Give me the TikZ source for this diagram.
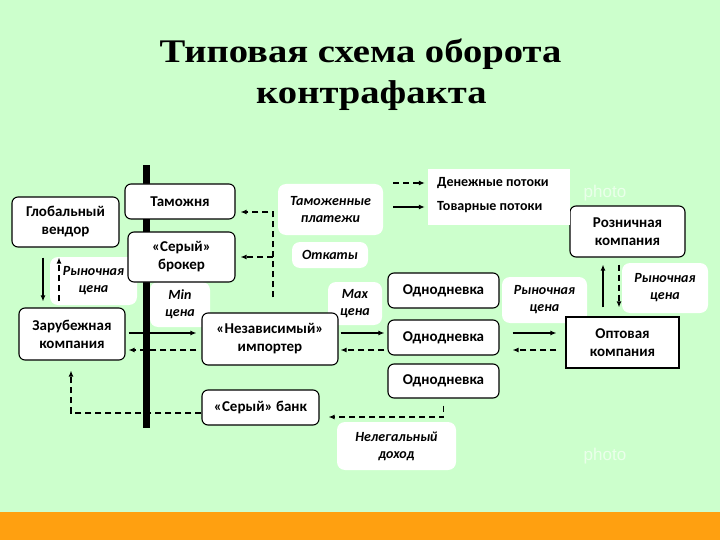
\documentclass[tikz,border=0pt]{standalone}
\usepackage{fontspec}
\setmainfont{Carlito}
\newfontfamily\titlefont[FakeStretch=1.17]{Liberation Serif}
\newfontfamily\wmfont{Liberation Sans}
\usetikzlibrary{arrows.meta,calc}
\definecolor{bg}{RGB}{204,255,204}
\definecolor{orangebar}{RGB}{255,160,16}
\begin{document}
\begin{tikzpicture}[x=1pt,y=-1pt,
  box/.style={draw=black,line width=1.1pt,fill=white,rounded corners=6pt,align=center,
    font=\fontsize{15}{18}\selectfont\bfseries,inner sep=0pt},
  sqbox/.style={box,rounded corners=0pt},
  lab/.style={fill=white,rounded corners=8pt,align=center,
    font=\fontsize{14}{17}\selectfont\bfseries\itshape,inner sep=0pt},
  sol/.style={line width=1.3pt,-{Latex[length=6pt,width=5pt]}},
  dsh/.style={sol,dash pattern=on 6pt off 4pt},
  wm/.style={font=\wmfont\fontsize{17}{20}\selectfont,text=white,text opacity=0.6},
  ttl/.style={font=\titlefont\fontsize{33}{40}\selectfont\bfseries},
  legtext/.style={anchor=west,font=\fontsize{14}{17}\selectfont\bfseries,inner sep=0pt}
]
\useasboundingbox (0,0) rectangle (720,540);
\fill[bg] (0,0) rectangle (720,540);
\fill[orangebar] (0,512) rectangle (720,540);

% title
\node[ttl,anchor=base] (t1) at (360.5,63) {Типовая схема оборота};
\node[ttl,anchor=base] (t2) at (371.5,104) {контрафакта};

% watermark
\node[wm] (w1) at (605,193) {photo};
\node[wm] (w2) at (605,456) {photo};

% border bar
\fill[black] (143,165) rectangle (150,428);

% label boxes
\node[lab,minimum width=87pt,minimum height=48pt] (lrm) at (93.5,281) {Рыночная\\цена};
\node[lab,minimum width=60pt,minimum height=45pt] (minc) at (180,304.5) {Min\\цена};
\node[lab,minimum width=105pt,minimum height=51pt] (tp) at (330.5,209.5) {Таможенные\\платежи};
\node[lab,minimum width=76pt,minimum height=26pt] (otk) at (330,255) {Откаты};
\node[lab,minimum width=54pt,minimum height=43pt] (maxc) at (355,303.5) {Max\\цена};
\node[lab,minimum width=85pt,minimum height=46pt] (lrc) at (544.5,300) {Рыночная\\цена};
\node[lab,minimum width=86pt,minimum height=50pt] (lrr) at (665,288) {Рыночная\\цена};
\node[lab,minimum width=119pt,minimum height=48pt] (neleg) at (396.5,446) {Нелегальный\\доход};

% main boxes
\node[box,minimum width=107pt,minimum height=50pt] (glob) at (65.5,222) {Глобальный\\вендор};
\node[box,minimum width=110pt,minimum height=35pt] (tam) at (180,201.5) {Таможня};
\node[box,minimum width=107pt,minimum height=50pt] (brok) at (181.5,257) {«Серый»\\брокер};
\node[box,minimum width=106pt,minimum height=52pt] (zar) at (72,334) {Зарубежная\\компания};
\node[box,minimum width=136pt,minimum height=52pt] (imp) at (270,339) {«Независимый»\\импортер};
\node[box,minimum width=117pt,minimum height=35pt] (bank) at (260.5,407.5) {«Серый» банк};
\node[box,minimum width=111pt,minimum height=35pt] (od1) at (443.5,290.5) {Однодневка};
\node[box,minimum width=111pt,minimum height=35pt] (od2) at (443.5,337.5) {Однодневка};
\node[box,minimum width=111pt,minimum height=34pt] (od3) at (443.5,381) {Однодневка};
\node[box,minimum width=115pt,minimum height=51pt] (rozn) at (627.5,231.5) {Розничная\\компания};
\node[sqbox,minimum width=113pt,minimum height=51pt] (opt) at (622.5,342.5) {Оптовая\\компания};

% legend
\node[fill=white,minimum width=142pt,minimum height=56pt,inner sep=0pt] (legend) at (499,197) {};
\node[legtext] (leg1) at (437,183) {Денежные потоки};
\node[legtext] (leg2) at (437,207) {Товарные потоки};
\coordinate (l1s) at (393,183);
\coordinate (l2s) at (393,207);
\draw[dsh,shorten >=3pt] (l1s) -- (legend.west |- l1s);
\draw[sol,shorten >=3pt] (l2s) -- (legend.west |- l2s);

% helper coordinates
\coordinate (xa) at (43,0);
\coordinate (xd) at (59,0);
\coordinate (ya) at (0,333);
\coordinate (yd) at (0,350);
\coordinate (xr) at (603,0);
\coordinate (xq) at (619,0);
\coordinate (xv) at (273,0);
\coordinate (yt) at (0,212);
\coordinate (yb) at (0,413);
\coordinate (xb) at (71,0);
\coordinate (yc) at (0,417);

% vendor <-> foreign company
\draw[sol,shorten <=10pt,shorten >=6pt] (glob.south -| xa) -- (zar.north -| xa);
\draw[dsh,shorten <=6pt,shorten >=10pt] (zar.north -| xd) -- (glob.south -| xd);

% foreign company <-> importer
\draw[sol,shorten <=3pt,shorten >=5pt] (zar.east |- ya) -- (imp.west |- ya);
\draw[dsh,shorten <=5pt,shorten >=3pt] (imp.west |- yd) -- (zar.east |- yd);

% importer <-> one-day firms
\draw[sol,shorten <=2pt,shorten >=3pt] (imp.east |- ya) -- (od2.west |- ya);
\draw[dsh,shorten <=3pt,shorten >=2pt] (od2.west |- yd) -- (imp.east |- yd);

% one-day firms <-> wholesale
\draw[sol,shorten <=13pt,shorten >=9pt] (od2.east |- ya) -- (opt.west |- ya);
\draw[dsh,shorten <=9pt,shorten >=13pt] (opt.west |- yd) -- (od2.east |- yd);

% wholesale <-> retail
\draw[sol,shorten <=9pt,shorten >=7pt] (opt.north -| xr) -- (rozn.south -| xr);
\draw[dsh,shorten <=7pt,shorten >=9pt] (rozn.south -| xq) -- (opt.north -| xq);

% customs payments / kickbacks
\draw[dsh,shorten <=15pt,shorten >=5pt] (imp.north -| xv) -- (xv |- yt) -- (tam.east |- yt);
\draw[dsh,shorten >=5pt] (xv |- brok.east) -- (brok.east);

% illegal income
\draw[dsh,shorten <=7pt,shorten >=9pt] (od3.south) |- (bank.east |- yc);
\draw[dsh,shorten >=10pt] (bank.west |- yb) -| (zar.south -| xb);
\end{tikzpicture}
\end{document}
